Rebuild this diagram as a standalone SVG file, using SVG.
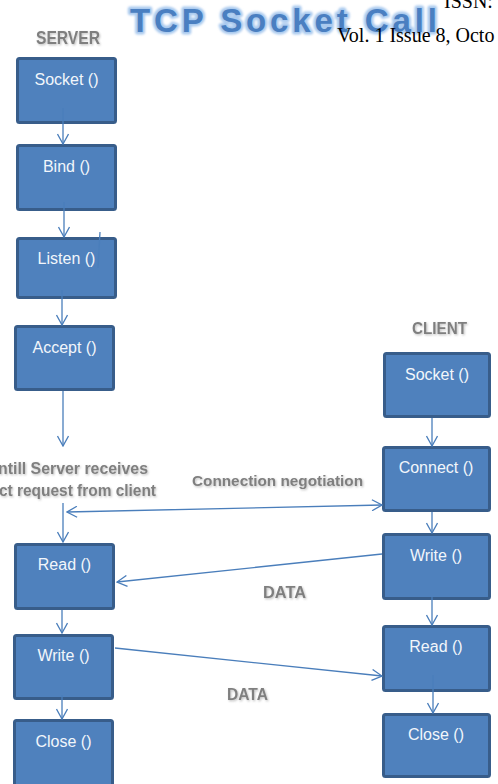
<svg xmlns="http://www.w3.org/2000/svg" width="498" height="784" viewBox="0 0 498 784">
  <style>
    .box { fill: #4F81BD; stroke: #385D8A; stroke-width: 3; }
    .lbl { font-family: "Liberation Sans", Arial, sans-serif; font-size: 16px; fill: #F2F6FB; text-anchor: middle; }
    .head { font-family: "Liberation Sans", Arial, sans-serif; font-weight: bold; fill: #7F7F7F; filter: url(#shadow); }
    .conn { fill: none; stroke: #4A7EBB; stroke-width: 1.3; }
    .paper { font-family: "Liberation Serif", "Times New Roman", serif; font-size: 20px; fill: #000; }
  </style>
  <defs>
    <filter id="shadow" x="-10%" y="-30%" width="120%" height="170%">
      <feDropShadow dx="1" dy="1.2" stdDeviation="0.8" flood-color="#BFBFBF" flood-opacity="1"/>
    </filter>
    <filter id="glow" x="-10%" y="-40%" width="120%" height="180%">
      <feGaussianBlur stdDeviation="1.2"/>
    </filter>
    <marker id="arrow" viewBox="0 0 12 12" refX="11" refY="6" markerWidth="12" markerHeight="12" markerUnits="userSpaceOnUse" orient="auto-start-reverse">
      <path d="M1,0.5 L11,6 L1,11.5" fill="none" stroke="#4A7EBB" stroke-width="1.3"/>
    </marker>
  </defs>

  <rect width="498" height="784" fill="#FFFFFF"/>

  <!-- page header text -->
  <text class="paper" x="444" y="8">ISSN:</text>

  <!-- title -->
  <g id="title">
    <text x="130" y="32" textLength="307" lengthAdjust="spacing" font-family="'Liberation Sans', Arial, sans-serif" font-weight="bold" font-size="33" fill="none" stroke="#A9C9EE" stroke-width="5" stroke-linejoin="round" filter="url(#glow)">TCP Socket Call</text>
    <text x="130" y="32" textLength="307" lengthAdjust="spacing" font-family="'Liberation Sans', Arial, sans-serif" font-weight="bold" font-size="33" fill="#4A7FC1">TCP Socket Call</text>
  </g>

  <text class="paper" x="337" y="42">Vol. 1 Issue 8, Octo</text>

  <!-- column headings -->
  <text class="head" x="36" y="44" font-size="18" textLength="64" lengthAdjust="spacingAndGlyphs">SERVER</text>
  <text class="head" x="412" y="334" font-size="17" textLength="55" lengthAdjust="spacingAndGlyphs">CLIENT</text>

  <!-- server side -->
  <g id="server-socket"><rect class="box" x="17.5" y="58.5" width="98" height="64" rx="2"/><text class="lbl" x="66.5" y="85">Socket ()</text></g>
  <g id="server-bind"><rect class="box" x="17.5" y="145.5" width="98" height="64" rx="2"/><text class="lbl" x="66.5" y="172">Bind ()</text></g>
  <g id="server-listen"><rect class="box" x="17.5" y="238.5" width="98" height="59" rx="2"/><text class="lbl" x="66.5" y="264">Listen ()</text></g>
  <g id="server-accept"><rect class="box" x="15.5" y="326.5" width="98" height="63" rx="2"/><text class="lbl" x="64.5" y="353">Accept ()</text></g>
  <g id="server-wait">
    <text class="head" x="-2" y="474" font-size="17" textLength="150" lengthAdjust="spacingAndGlyphs">ntill Server receives</text>
    <text class="head" x="-1" y="496" font-size="17" textLength="157" lengthAdjust="spacingAndGlyphs">ct request from client</text>
  </g>
  <g id="server-read"><rect class="box" x="15.5" y="544.5" width="98" height="64" rx="2"/><text class="lbl" x="64.5" y="570">Read ()</text></g>
  <g id="server-write"><rect class="box" x="14.5" y="635.5" width="98" height="63" rx="2"/><text class="lbl" x="63.5" y="661">Write ()</text></g>
  <g id="server-close"><rect class="box" x="14.5" y="720.5" width="98" height="70" rx="2"/><text class="lbl" x="63.5" y="747">Close ()</text></g>

  <!-- client side -->
  <g id="client-socket"><rect class="box" x="384.5" y="353.5" width="105" height="63" rx="2"/><text class="lbl" x="437" y="380">Socket ()</text></g>
  <g id="client-connect"><rect class="box" x="383.5" y="447.5" width="106" height="63" rx="2"/><text class="lbl" x="436" y="473">Connect ()</text></g>
  <g id="client-write"><rect class="box" x="383.5" y="534.5" width="106" height="64" rx="2"/><text class="lbl" x="436" y="561">Write ()</text></g>
  <g id="client-read"><rect class="box" x="383.5" y="626.5" width="106" height="64" rx="2"/><text class="lbl" x="436" y="652">Read ()</text></g>
  <g id="client-close"><rect class="box" x="383.5" y="714.5" width="106" height="62" rx="2"/><text class="lbl" x="436" y="740">Close ()</text></g>

  <!-- connectors -->
  <g id="connectors">
    <path class="conn" d="M63,108 L63,144" marker-end="url(#arrow)"/>
    <path class="conn" d="M64,202 L64,237" marker-end="url(#arrow)"/>
    <path class="conn" d="M100,232 L98,268"/>
    <path class="conn" d="M62,290 L62,325" marker-end="url(#arrow)"/>
    <path class="conn" d="M63,391 L63,446" marker-end="url(#arrow)"/>
    <path class="conn" d="M63,503 L63,542" marker-end="url(#arrow)"/>
    <path class="conn" d="M67,512 L382,505" marker-start="url(#arrow)" marker-end="url(#arrow)"/>
    <path class="conn" d="M62,610 L62,633" marker-end="url(#arrow)"/>
    <path class="conn" d="M62,695 L62,719" marker-end="url(#arrow)"/>

    <path class="conn" d="M432,418 L432,446" marker-end="url(#arrow)"/>
    <path class="conn" d="M432,512 L432,533" marker-end="url(#arrow)"/>
    <path class="conn" d="M432,597 L432,625" marker-end="url(#arrow)"/>
    <path class="conn" d="M433,675 L433,713" marker-end="url(#arrow)"/>

    <path class="conn" d="M382,554 L117,582" marker-end="url(#arrow)"/>
    <path class="conn" d="M115,648 L382,676" marker-end="url(#arrow)"/>
  </g>

  <!-- connector labels -->
  <text class="head" x="192" y="486" font-size="15" textLength="171" lengthAdjust="spacingAndGlyphs">Connection negotiation</text>
  <text class="head" x="263" y="598" font-size="17" textLength="43" lengthAdjust="spacingAndGlyphs">DATA</text>
  <text class="head" x="227" y="700" font-size="17" textLength="41" lengthAdjust="spacingAndGlyphs">DATA</text>
</svg>
